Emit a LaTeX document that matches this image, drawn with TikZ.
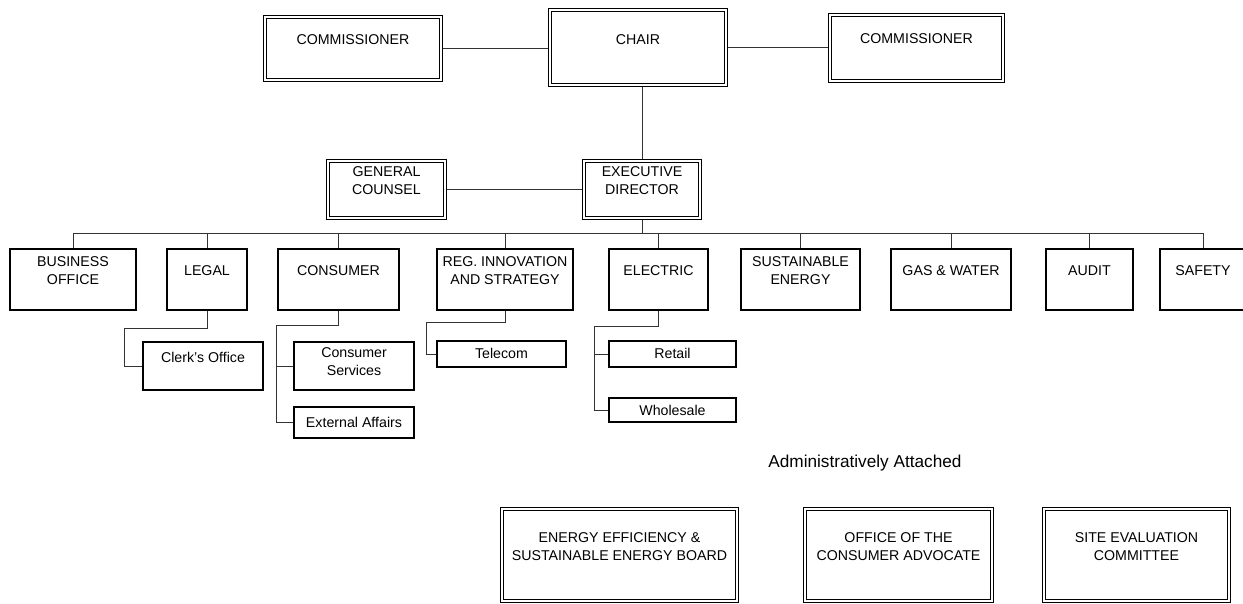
\documentclass[tikz,border=0pt]{standalone}
\usepackage{fontspec}
\setmainfont{Liberation Sans}
\usetikzlibrary{fit,backgrounds}

\tikzset{
    unit/.style={draw, line width=0.6pt, inner sep=0pt},
    board/.style={draw, double, double distance=0.9pt, line width=0.5pt, inner sep=-1pt},
    lbl/.style={align=center, font=\fontsize{7.1}{9}\selectfont, yshift=4.5pt},
    link/.style={line width=0.45pt, black!80},
}

\begin{document}
\begin{tikzpicture}[x=0.5pt, y=-0.5pt]
        \useasboundingbox (0,0) rectangle (1243,604);

        % top level
        \node[board, fit={(263,15) (443,82)}, label={[lbl, yshift=-0.3pt]center:COMMISSIONER}] (comL) {};
        \node[board, fit={(548,8) (728,87)}, label={[lbl, yshift=-0.8pt]center:CHAIR}] (chair) {};
        \node[board, fit={(828,13) (1005,83)}, label={[lbl]center:COMMISSIONER}] (comR) {};

        \node[board, fit={(326,159) (447,220)}, label={[lbl]center:{GENERAL\\COUNSEL}}] (gc) {};
        \node[board, fit={(582,159) (702,220)}, label={[lbl]center:{EXECUTIVE\\DIRECTOR}}] (ed) {};

        % divisions
        \node[unit, fit={(10,249) (136,310)}, label={[lbl]center:{BUSINESS\\OFFICE}}] (bo) {};
        \node[unit, fit={(167,249) (247,310)}, label={[lbl]center:LEGAL}] (le) {};
        \node[unit, fit={(278,249) (399,310)}, label={[lbl]center:CONSUMER}] (co) {};
        \node[unit, fit={(437,249) (573,310)}, label={[lbl]center:{REG. INNOVATION\\AND STRATEGY}}] (re) {};
        \node[unit, fit={(609,249) (708,310)}, label={[lbl]center:ELECTRIC}] (el) {};
        \node[unit, fit={(741,249) (860,310)}, label={[lbl]center:{SUSTAINABLE\\ENERGY}}] (se) {};
        \node[unit, fit={(891,249) (1011,310)}, label={[lbl]center:GAS \& WATER}] (gw) {};
        \node[unit, fit={(1046,249) (1133,310)}, label={[lbl]center:AUDIT}] (au) {};
        \node[unit, fit={(1160,249) (1246,310)}, label={[lbl]center:SAFETY}] (sf) {};

        % sections
        \node[unit, fit={(143,342) (263,390)}, label={[lbl]center:Clerk's Office}] (ck) {};
        \node[unit, fit={(294,342) (414,390)}, label={[lbl, yshift=-2.5pt]center:{Consumer\\Services}}] (cs) {};
        \node[unit, fit={(294,407) (414,438)}, label={[lbl, yshift=-4.5pt]center:External Affairs}] (ea) {};
        \node[unit, fit={(437,341) (566,367)}, label={[lbl, yshift=-4.2pt]center:Telecom}] (tc) {};
        \node[unit, fit={(609,341) (736,367)}, label={[lbl, yshift=-4.2pt]center:Retail}] (rt) {};
        \node[unit, fit={(609,398) (736,422)}, label={[lbl, yshift=-4.5pt]center:Wholesale}] (wh) {};

        % attached
        \node[anchor=west, inner sep=0pt, font=\fontsize{8.6}{10}\selectfont] (adm) at (768,463.5) {Administratively Attached};
        \node[board, fit={(500,507) (739,603)}, label={[lbl, yshift=-0.5pt]center:{ENERGY EFFICIENCY \&\\SUSTAINABLE ENERGY BOARD}}] (eeb) {};
        \node[board, fit={(803,507) (994,603)}, label={[lbl, yshift=-0.5pt]center:{OFFICE OF THE\\CONSUMER ADVOCATE}}] (oca) {};
        \node[board, fit={(1042,507) (1231,603)}, label={[lbl, yshift=-0.5pt]center:{SITE EVALUATION\\COMMITTEE}}] (sec) {};

        \begin{scope}[on background layer]
            \draw[link] (comL.east) -- (comL.east -| chair.west);
            \draw[link] (chair.east) -- (chair.east -| comR.west);
            \draw[link] (ed.north) -- (ed.north |- chair.south);
            \draw[link] (gc.east) -- (gc.east -| ed.west);

            \coordinate (bus) at (0,233);
            \draw[link] (ed.south) -- (ed.south |- bus);
            \draw[link] (bus -| bo.north) -- (bus -| sf.north);
            \foreach \d in {bo,le,co,re,el,se,gw,au,sf}
                \draw[link] (bus -| \d.north) -- (\d.north);

            \draw[link] (le.south) |- ++(-83,18) |- (ck.west);
            \draw[link] (co.south) |- ++(-62.5,15) coordinate (coBend) |- (ea.west);
            \draw[link] (coBend |- cs.west) -- (cs.west);
            \draw[link] (re.south) |- ++(-79,12) |- (tc.west);
            \draw[link] (el.south) |- ++(-64.5,16) coordinate (elBend) |- (wh.west);
            \draw[link] (elBend |- rt.west) -- (rt.west);
        \end{scope}

    \end{tikzpicture}
\end{document}
